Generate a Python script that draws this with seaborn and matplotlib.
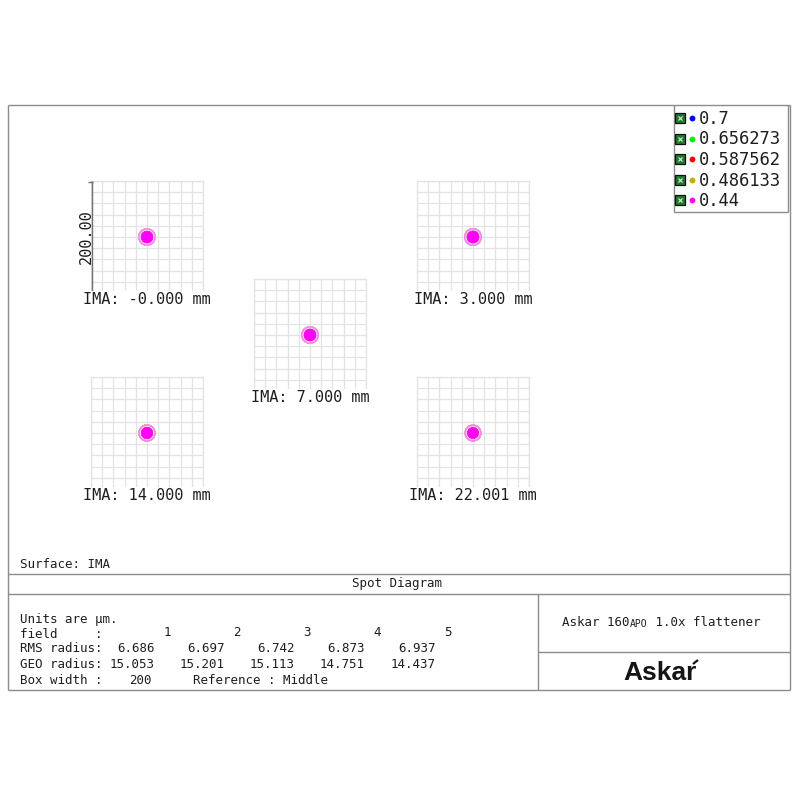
import numpy as np
import pandas as pd
import matplotlib
matplotlib.use("Agg")
import matplotlib.pyplot as plt
from matplotlib.colors import to_rgb
import seaborn as sns

# ---- data -------------------------------------------------------------
field_ids = [1, 2, 3, 4, 5]
field_labels = ["-0.000", "3.000", "7.000", "14.000", "22.001"]
rms_radius = [6.686, 6.697, 6.742, 6.873, 6.937]
geo_radius = [15.053, 15.201, 15.113, 14.751, 14.437]
wavelengths = [0.7, 0.656273, 0.587562, 0.486133, 0.44]
wave_colors = ["#0000ff", "#00ee00", "#ff0000", "#c0b000", "#ff00ff"]
box_width = 200
# spot centroid offsets relative to the chief ray (micrometres)
centroid_x = [0.0, 0.0, 0.0, 0.0, 0.0]
centroid_y = [0.0, 0.0, 0.0, 0.0, 0.0]

sns.set_theme(style="white")
MONO = ["DejaVu Sans Mono"]
plt.rcParams["font.family"] = MONO

DPI = 100
W = H = 800
fig = plt.figure(figsize=(W / DPI, H / DPI), dpi=DPI)
fig.patch.set_facecolor("white")

def page_axes():
    a = fig.add_axes([0, 0, 1, 1])
    a.set_xlim(0, W)
    a.set_ylim(H, 0)
    a.axis("off")
    a.patch.set_alpha(0)
    return a

# page-level axes in pixel units (y downward)
bg = page_axes()

FRAME = "#8c8c8c"
TXT = "#1e1e1e"

def hline(a, y, x0, x1, c=FRAME, lw=1.0):
    a.plot([x0, x1], [y, y], color=c, lw=lw, solid_capstyle="butt")

def vline(a, x, y0, y1, c=FRAME, lw=1.0):
    a.plot([x, x], [y0, y1], color=c, lw=lw, solid_capstyle="butt")

def lighten(c, f):
    r, g, b = to_rgb(c)
    return (r + (1 - r) * f, g + (1 - g) * f, b + (1 - b) * f)

# outer frame and info-block rules
L, R, T, B = 8, 790, 105, 690
hline(bg, T, L, R); hline(bg, B, L, R); vline(bg, L, T, B); vline(bg, R, T, B)
hline(bg, 574, L, R)
hline(bg, 594, L, R)
vline(bg, 538, 594, B)
hline(bg, 652, 538, R)

# ---- spot boxes ------------------------------------------------------
BOX = 112
box_pos = {1: (91, 181), 2: (417, 181), 3: (254, 279), 4: (91, 377), 5: (417, 377)}
GRID = "#e3e3e3"
px_per_um = BOX / box_width

def disc_size(r_um):
    d_pt = 2 * r_um * px_per_um * 72 / DPI
    return d_pt ** 2

for i, fid in enumerate(field_ids):
    x0, y0 = box_pos[fid]
    ax = fig.add_axes([x0 / W, 1 - (y0 + BOX) / H, BOX / W, BOX / H])
    half = box_width / 2
    ax.set_xlim(-half, half)
    ax.set_ylim(-half, half)
    ticks = np.linspace(-half, half, 11)
    ax.set_xticks(ticks)
    ax.set_yticks(ticks)
    ax.set_xticklabels([])
    ax.set_yticklabels([])
    ax.tick_params(length=0)
    ax.grid(True, color=GRID, lw=0.9)
    ax.set_facecolor("white")
    for s in ax.spines.values():
        s.set_color(GRID)
        s.set_linewidth(0.9)

    g = geo_radius[i]
    df = pd.DataFrame({"x": [centroid_x[i]] * len(wavelengths),
                       "y": [centroid_y[i]] * len(wavelengths),
                       "wavelength": [str(w) for w in wavelengths]})
    # halo, thin light ring, then solid core for each wavelength (last on top)
    for w, c in zip(df["wavelength"], wave_colors):
        sub = df[df["wavelength"] == w]
        sns.scatterplot(data=sub, x="x", y="y", s=disc_size(g + 0.8), color=lighten(c, 0.5),
                        edgecolor="none", legend=False, ax=ax, zorder=3)
        sns.scatterplot(data=sub, x="x", y="y", s=disc_size(g - 2.0), color=lighten(c, 0.82),
                        edgecolor="none", legend=False, ax=ax, zorder=3)
        sns.scatterplot(data=sub, x="x", y="y", s=disc_size(g - 4.2), color=c,
                        edgecolor="none", legend=False, ax=ax, zorder=4)
    ax.set_xlabel("")
    ax.set_ylabel("")

# overlay for field labels, drawn above the boxes
top = page_axes()
for i, fid in enumerate(field_ids):
    x0, y0 = box_pos[fid]
    top.text(x0 + BOX / 2, y0 + BOX + 7, f"IMA: {field_labels[i]} mm",
             ha="center", va="center", fontsize=11, color=TXT,
             bbox=dict(facecolor="white", edgecolor="none", pad=1.0))

# scale bar on the first box
sx, sy = box_pos[1]
vline(top, sx + 0.5, sy, sy + BOX - 1, c="#707070", lw=1.0)
hline(top, sy + 0.5, sx - 3, sx + 2, c="#707070", lw=1.0)
top.text(sx - 5, sy + BOX / 2, f"{box_width:.2f}", rotation=90,
         ha="center", va="center", fontsize=11, color=TXT)

# ---- legend ----------------------------------------------------------
lx0, ly0, lx1, ly1 = 674, 105, 788, 212
hline(bg, ly1, lx0, lx1); vline(bg, lx0, ly0, ly1); vline(bg, lx1, ly0, ly1)
for k, (w, c) in enumerate(zip(wavelengths, wave_colors)):
    yy = 118 + k * 20.5
    bg.plot([680], [yy], marker="s", ms=6.5, mfc="#1f7a2e", mec="#111111", mew=0.9)
    bg.plot([680], [yy], marker="x", ms=3.5, mec="#d8f0d8", mew=0.8)
    bg.plot([692], [yy], marker="o", ms=4.2, mfc=c, mec="none")
    bg.text(699, yy + 1, f"{w:g}", ha="left", va="center", fontsize=12.3, color=TXT)

# ---- info block ------------------------------------------------------
FS = 9
bg.text(20, 565, "Surface: IMA", ha="left", va="center", fontsize=FS, color=TXT)
bg.text(397, 583, "Spot Diagram", ha="center", va="center", fontsize=FS, color=TXT)
bg.text(20, 619, "Units are \u00b5m.", ha="left", va="center", fontsize=FS, color=TXT)

col_end = [155, 225, 295, 365, 436]
bg.text(20, 634, "field     :", ha="left", va="center", fontsize=FS, color=TXT)
for fid, ce in zip(field_ids, col_end):
    bg.text(ce + 12, 633, str(fid), ha="center", va="center", fontsize=FS, color=TXT)

bg.text(20, 649, "RMS radius:", ha="left", va="center", fontsize=FS, color=TXT)
for v, ce in zip(rms_radius, col_end):
    bg.text(ce, 649, f"{v:.3f}", ha="right", va="center", fontsize=FS, color=TXT)

bg.text(20, 665, "GEO radius:", ha="left", va="center", fontsize=FS, color=TXT)
for v, ce in zip(geo_radius, col_end):
    bg.text(ce, 665, f"{v:.3f}", ha="right", va="center", fontsize=FS, color=TXT)

bg.text(20, 681, "Box width :", ha="left", va="center", fontsize=FS, color=TXT)
bg.text(152, 681, f"{box_width}", ha="right", va="center", fontsize=FS, color=TXT)
bg.text(193, 681, "Reference : Middle", ha="left", va="center", fontsize=FS, color=TXT)

# title cell with small-caps "APO"
bg.text(562, 623, "Askar 160", ha="left", va="center", fontsize=FS, color=TXT)
bg.text(630, 624, "APO", ha="left", va="center", fontsize=7, color=TXT)
bg.text(648, 623, " 1.0x flattener", ha="left", va="center", fontsize=FS, color=TXT)

# logo
bg.text(660, 673, "Askar", ha="center", va="center", fontsize=19, fontweight="bold",
        family=["Liberation Sans", "DejaVu Sans"], color="#151515")
bg.plot([693, 698], [664, 660], color="#151515", lw=1.6, solid_capstyle="butt")

fig.savefig("out.png", dpi=DPI, facecolor="white")
